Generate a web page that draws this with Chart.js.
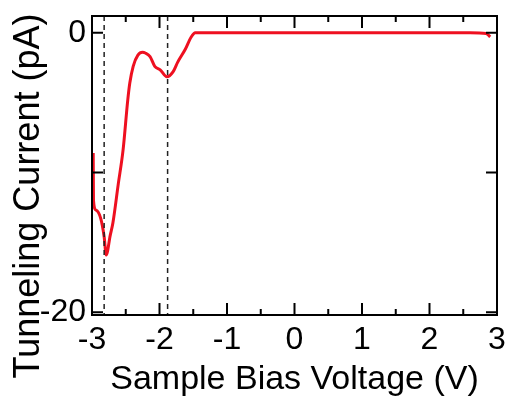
<!DOCTYPE html>
<html>
<head>
<meta charset="utf-8">
<script src="https://cdn.jsdelivr.net/npm/chart.js@4.4.0/dist/chart.umd.min.js"></script>
<style>
    html, body { margin: 0; padding: 0; background: #fff; }
    #wrap { width: 508px; height: 398px; }
</style>
</head>
<body>
<div id="wrap"><canvas id="stsChart" width="508" height="398"></canvas></div>
<script>
// Data
const biasV = [-2.982, -2.978, -2.94, -2.87, -2.82, -2.79, -2.73, -2.69, -2.61, -2.54, -2.47, -2.44, -2.39, -2.32, -2.25, -2.21, -2.14, -2.07, -1.99, -1.89, -1.80, -1.73, -1.62, -1.53, -1.47, -1.0, 0.0, 1.0, 2.0, 2.6, 2.84, 2.90];
const current = [-8.6, -12.0, -12.7, -13.3, -14.6, -15.9, -14.5, -13.6, -10.8, -8.4, -4.8, -3.6, -2.4, -1.6, -1.4, -1.45, -1.7, -2.4, -2.65, -3.15, -2.8, -2.1, -1.2, -0.3, 0.0, 0.0, 0.0, 0.0, 0.0, 0.0, -0.05, -0.3];
const dashV = [-2.82, -1.88];
const xTicks = [-3, -2.5, -2, -1.5, -1, -0.5, 0, 0.5, 1, 1.5, 2, 2.5, 3];
const yTicks = [0, -10, -20];
const yLabels = { '0': '0', '-20': '-20' };
const yTitle = 'Tunneling Current (pA)';

const fontFamily = '"Liberation Sans", Arial, sans-serif';

// Frame, inward ticks and the y title (which sits lower than the plot centre)
const framePlugin = {
    id: 'frame',
    afterDraw: (chart) => {
        const { ctx, chartArea: a, scales } = chart;
        ctx.save();
        ctx.strokeStyle = '#000';
        ctx.lineWidth = 2;
        ctx.strokeRect(a.left, a.top, a.right - a.left, a.bottom - a.top);
        ctx.beginPath();
        xTicks.forEach(v => {
            const px = scales.x.getPixelForValue(v);
            const len = Number.isInteger(v) ? 12 : 6;
            ctx.moveTo(px, a.bottom);
            ctx.lineTo(px, a.bottom - len);
            ctx.moveTo(px, a.top);
            ctx.lineTo(px, a.top + len);
        });
        yTicks.forEach(v => {
            const py = scales.y.getPixelForValue(v);
            ctx.moveTo(a.left, py);
            ctx.lineTo(a.left + 11, py);
            ctx.moveTo(a.right, py);
            ctx.lineTo(a.right - 11, py);
        });
        ctx.stroke();

        ctx.translate(29, 196);
        ctx.rotate(-Math.PI / 2);
        ctx.fillStyle = '#000';
        ctx.font = '36px ' + fontFamily;
        ctx.textAlign = 'center';
        ctx.textBaseline = 'middle';
        ctx.fillText(yTitle, 0, 0);
        ctx.restore();
    }
};

const dashSets = dashV.map(v => ({
    data: [{ x: v, y: 1.2 }, { x: v, y: -20.2 }],
    borderColor: '#222',
    borderWidth: 1.5,
    borderDash: [5, 4],
    pointRadius: 0,
    tension: 0
}));

new Chart(document.getElementById('stsChart').getContext('2d'), {
    type: 'line',
    data: {
        datasets: [
            ...dashSets,
            {
                data: biasV.map((v, i) => ({ x: v, y: current[i] })),
                borderColor: 'rgb(238, 16, 32)',
                borderWidth: 3,
                pointRadius: 0,
                cubicInterpolationMode: 'monotone'
            }
        ]
    },
    options: {
        responsive: false,
        animation: false,
        layout: { padding: { top: 16, right: 11, left: 0, bottom: 0 } },
        plugins: { legend: { display: false }, tooltip: { enabled: false } },
        scales: {
            x: {
                type: 'linear',
                min: -3,
                max: 3,
                afterBuildTicks: (scale) => { scale.ticks = xTicks.map(v => ({ value: v })); },
                afterFit: (scale) => {
                    scale.height = 83;
                    scale.paddingLeft = 0;
                    scale.paddingRight = 0;
                },
                grid: { display: false, drawTicks: false },
                border: { display: false },
                ticks: {
                    color: '#000',
                    padding: 6,
                    maxRotation: 0,
                    autoSkip: false,
                    font: { family: fontFamily, size: 32 },
                    callback: (v) => Number.isInteger(v) ? String(v) : ''
                },
                title: {
                    display: true,
                    text: 'Sample Bias Voltage (V)',
                    color: '#000',
                    font: { family: fontFamily, size: 34, lineHeight: 1 },
                    padding: { top: 0, bottom: 1 }
                }
            },
            y: {
                min: -20.2,
                max: 1.2,
                afterBuildTicks: (scale) => { scale.ticks = yTicks.map(v => ({ value: v })); },
                afterFit: (scale) => {
                    scale.width = 92;
                    scale.paddingTop = 0;
                    scale.paddingBottom = 0;
                },
                grid: { display: false, drawTicks: false },
                border: { display: false },
                ticks: {
                    color: '#000',
                    padding: 6,
                    autoSkip: false,
                    font: { family: fontFamily, size: 32 },
                    callback: (v) => yLabels[String(v)] || ''
                }
            }
        }
    },
    plugins: [framePlugin]
});
</script>
</body>
</html>
